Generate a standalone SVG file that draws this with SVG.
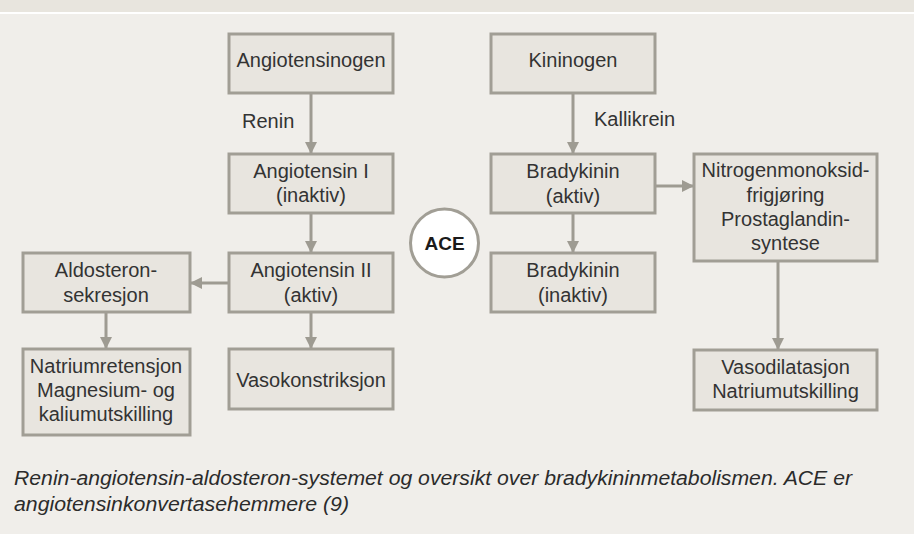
<svg xmlns="http://www.w3.org/2000/svg" width="914" height="534" viewBox="0 0 914 534">
<style>
.box{fill:#e8e5df;stroke:#a19e95;stroke-width:3}
.t{font-family:"Liberation Sans",Arial,sans-serif;font-size:20px;fill:#333333;text-anchor:middle}
.lbl{font-family:"Liberation Sans",Arial,sans-serif;font-size:20px;fill:#333333}
.c{stroke:#9e9b92;stroke-width:3;fill:none}
.cap{font-family:"Liberation Sans",Arial,sans-serif;font-size:20px;font-style:italic;fill:#2b2b2b}
</style>
<defs>
<marker id="ah" viewBox="0 0 12 12" refX="12" refY="6" markerWidth="12" markerHeight="12" markerUnits="userSpaceOnUse" orient="auto">
<path d="M0,0 L12,6 L0,12 Z" fill="#9e9b92"/>
</marker>
</defs>
<rect x="0" y="0" width="914" height="534" fill="#f0eeea"/>
<rect x="0" y="0" width="914" height="12" fill="#e8e5de"/>
<rect x="0" y="12" width="914" height="2" fill="#ffffff"/>

<g id="connectors">
<line class="c" x1="311" y1="93" x2="311" y2="154" marker-end="url(#ah)"/>
<line class="c" x1="311" y1="213" x2="311" y2="253" marker-end="url(#ah)"/>
<line class="c" x1="229" y1="283" x2="190" y2="283" marker-end="url(#ah)"/>
<line class="c" x1="106" y1="312" x2="106" y2="349" marker-end="url(#ah)"/>
<line class="c" x1="311" y1="312" x2="311" y2="349" marker-end="url(#ah)"/>
<line class="c" x1="573" y1="93" x2="573" y2="154" marker-end="url(#ah)"/>
<line class="c" x1="655" y1="186" x2="694" y2="186" marker-end="url(#ah)"/>
<line class="c" x1="573" y1="213" x2="573" y2="253" marker-end="url(#ah)"/>
<line class="c" x1="778" y1="261" x2="778" y2="350" marker-end="url(#ah)"/>
<text class="lbl" x="242" y="128">Renin</text>
<text class="lbl" x="594" y="126">Kallikrein</text>
</g>

<g id="angiotensinogen">
<rect class="box" x="229" y="34" width="164" height="59"/>
<text class="t" x="311" y="67">Angiotensinogen</text>
</g>
<g id="angiotensin1">
<rect class="box" x="229" y="154" width="164" height="59"/>
<text class="t" x="311" y="178">Angiotensin I</text>
<text class="t" x="311" y="202">(inaktiv)</text>
</g>
<g id="angiotensin2">
<rect class="box" x="229" y="253" width="164" height="59"/>
<text class="t" x="311" y="277">Angiotensin II</text>
<text class="t" x="311" y="302">(aktiv)</text>
</g>
<g id="aldosteron">
<rect class="box" x="23" y="253" width="167" height="59"/>
<text class="t" x="106" y="277">Aldosteron-</text>
<text class="t" x="106" y="302">sekresjon</text>
</g>
<g id="natrium">
<rect class="box" x="23" y="349" width="167" height="86"/>
<text class="t" x="106" y="373">Natriumretensjon</text>
<text class="t" x="106" y="397">Magnesium- og</text>
<text class="t" x="106" y="421">kaliumutskilling</text>
</g>
<g id="vasokonstriksjon">
<rect class="box" x="229" y="349" width="164" height="60"/>
<text class="t" x="311" y="387">Vasokonstriksjon</text>
</g>
<g id="ace">
<circle cx="444.5" cy="243" r="34" fill="#ffffff" stroke="#a19e95" stroke-width="3"/>
<text x="444.5" y="250" font-family="Liberation Sans,Arial,sans-serif" font-size="19" font-weight="bold" fill="#1a1a1a" text-anchor="middle">ACE</text>
</g>
<g id="kininogen">
<rect class="box" x="491" y="34" width="164" height="59"/>
<text class="t" x="573" y="67">Kininogen</text>
</g>
<g id="bradykinin-aktiv">
<rect class="box" x="491" y="154" width="164" height="59"/>
<text class="t" x="573" y="178">Bradykinin</text>
<text class="t" x="573" y="203">(aktiv)</text>
</g>
<g id="bradykinin-inaktiv">
<rect class="box" x="491" y="253" width="164" height="59"/>
<text class="t" x="573" y="277">Bradykinin</text>
<text class="t" x="573" y="302">(inaktiv)</text>
</g>
<g id="nitrogen">
<rect class="box" x="694" y="154" width="183" height="107"/>
<text class="t" x="785.5" y="177">Nitrogenmonoksid-</text>
<text class="t" x="785.5" y="202">frigjøring</text>
<text class="t" x="785.5" y="226">Prostaglandin-</text>
<text class="t" x="785.5" y="250">syntese</text>
</g>
<g id="vasodilatasjon">
<rect class="box" x="694" y="350" width="183" height="60"/>
<text class="t" x="785.5" y="374">Vasodilatasjon</text>
<text class="t" x="785.5" y="398">Natriumutskilling</text>
</g>

<text class="cap" x="14" y="485" textLength="838" lengthAdjust="spacingAndGlyphs">Renin-angiotensin-aldosteron-systemet og oversikt over bradykininmetabolismen. ACE er</text>
<text class="cap" x="14" y="511" textLength="335" lengthAdjust="spacingAndGlyphs">angiotensinkonvertasehemmere (9)</text>
</svg>
